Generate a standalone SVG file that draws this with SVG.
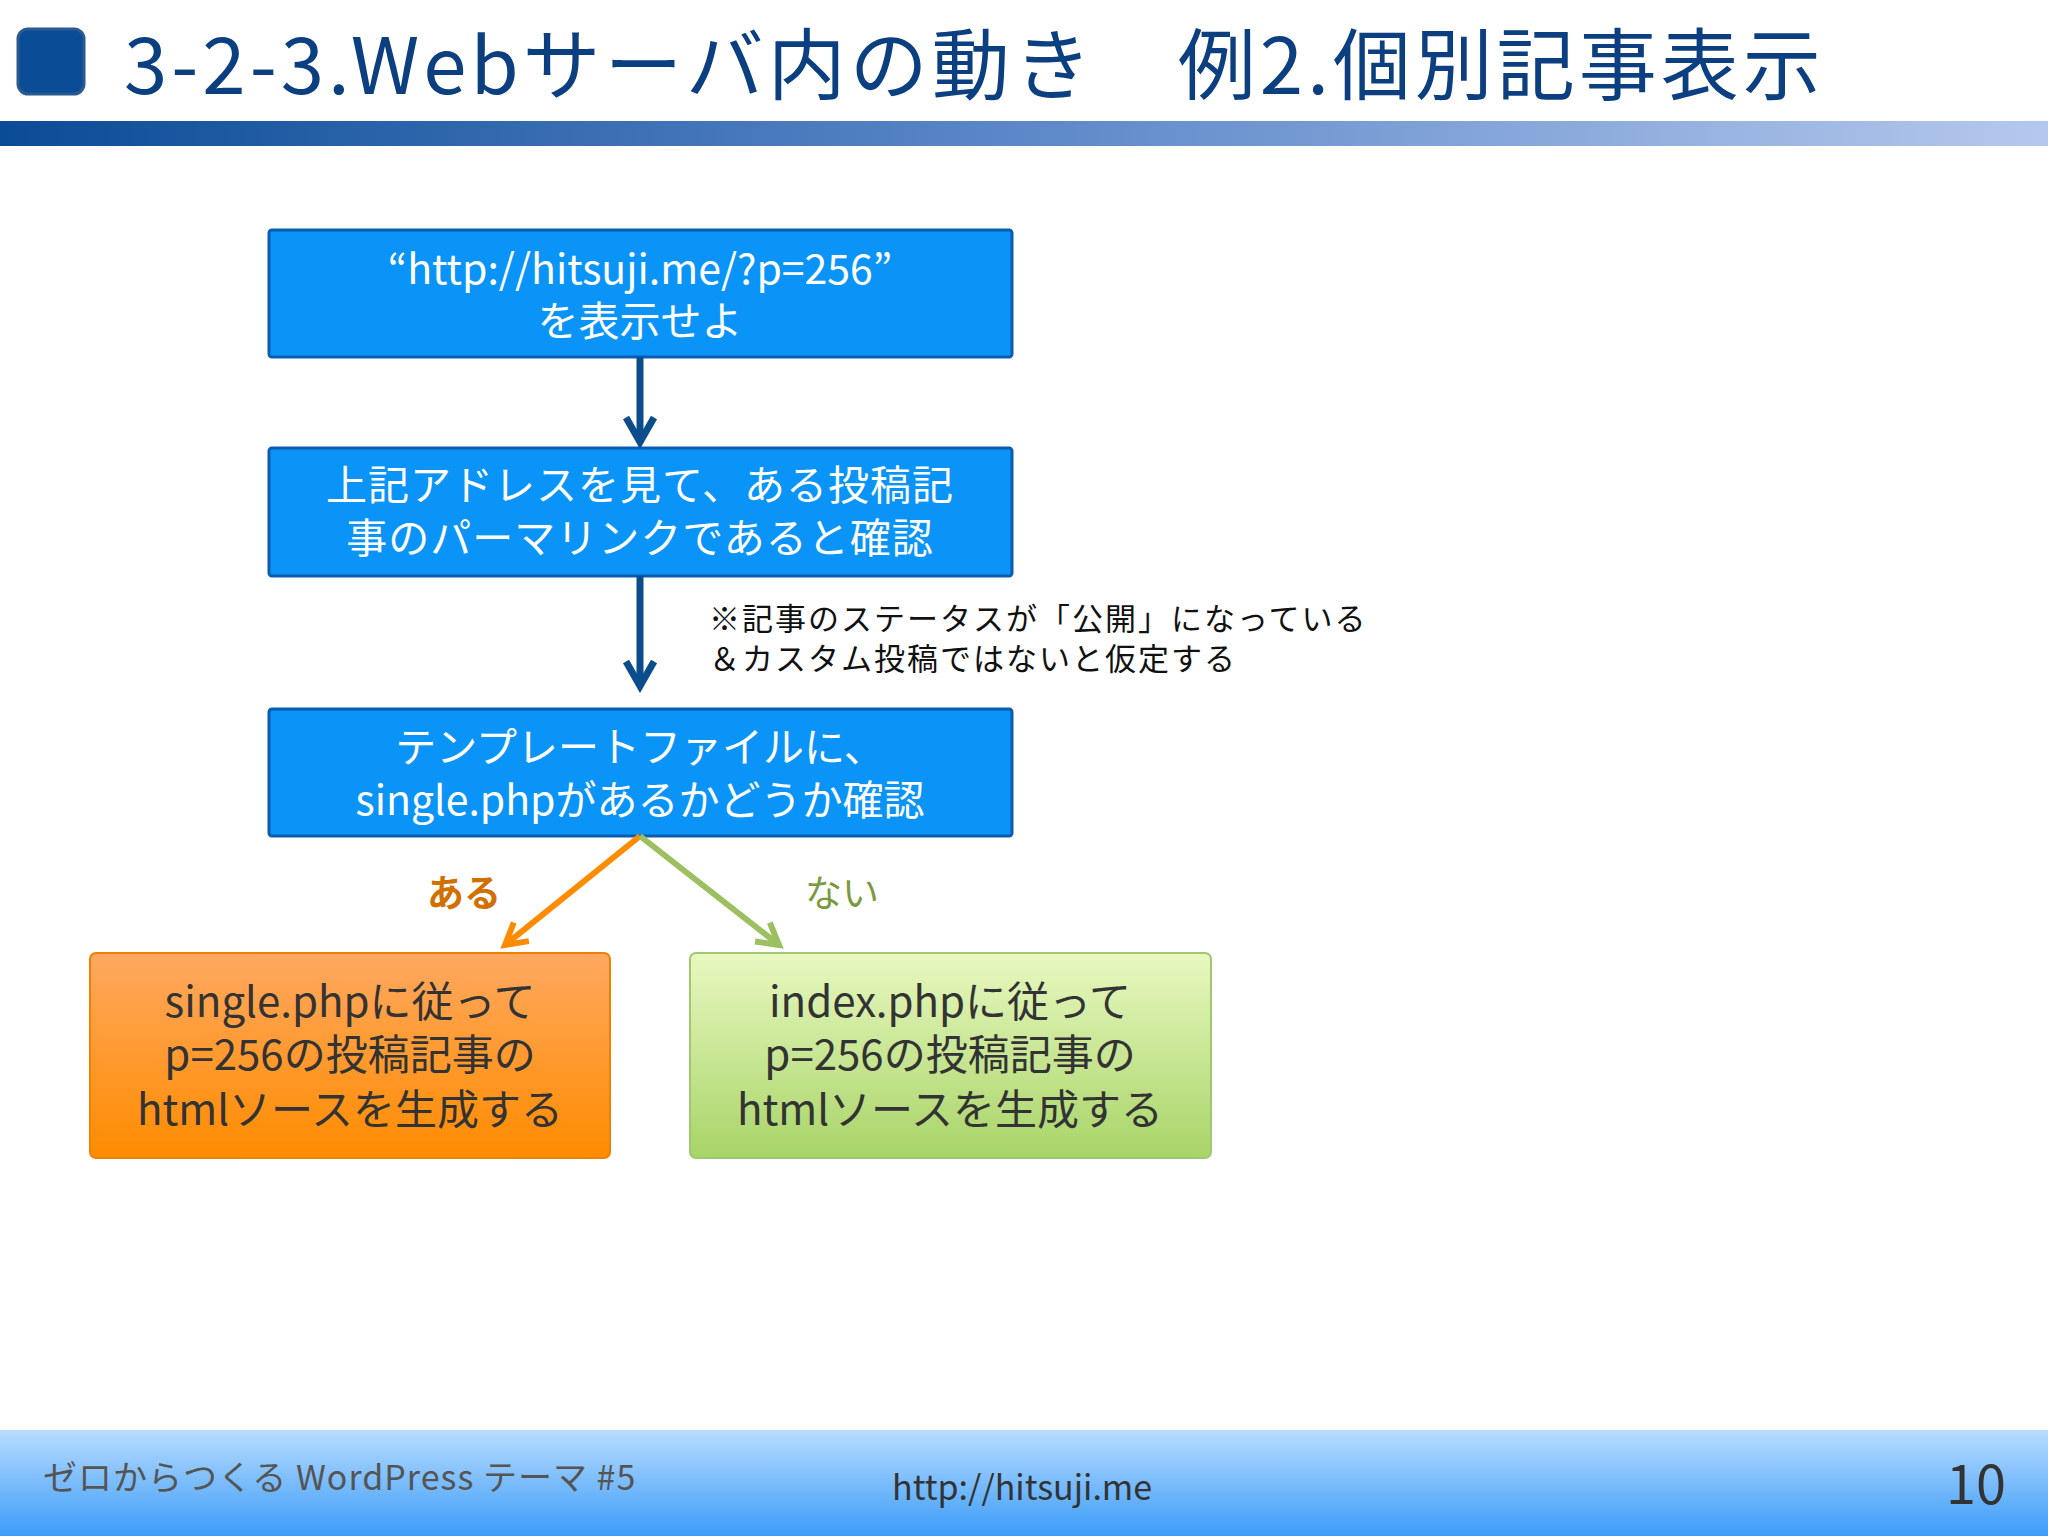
<svg xmlns="http://www.w3.org/2000/svg" width="2048" height="1536" viewBox="0 0 2048 1536">
<defs>
<linearGradient id="hb" x1="0" x2="1" y1="0" y2="0"><stop offset="0" stop-color="#0B4C96"/><stop offset="0.5" stop-color="#5C88C8"/><stop offset="1" stop-color="#B4C8EC"/></linearGradient>
<linearGradient id="fb" x1="0" x2="0" y1="0" y2="1"><stop offset="0" stop-color="#B8DCFF"/><stop offset="1" stop-color="#3C9CF8"/></linearGradient>
<linearGradient id="og" x1="0" x2="0" y1="0" y2="1"><stop offset="0" stop-color="#FFA860"/><stop offset="1" stop-color="#FF8C00"/></linearGradient>
<linearGradient id="gg" x1="0" x2="0" y1="0" y2="1"><stop offset="0" stop-color="#E8F8C0"/><stop offset="1" stop-color="#A8D468"/></linearGradient>
<marker id="ab" viewBox="0 0 10 10" refX="8" refY="5" markerWidth="5" markerHeight="5" orient="auto"><path d="M1,1 L8,5 L1,9" fill="none" stroke="#0B4C8C" stroke-width="2"/></marker>
<marker id="ao" viewBox="0 0 10 10" refX="8" refY="5" markerWidth="5" markerHeight="5" orient="auto"><path d="M1,1 L8,5 L1,9" fill="none" stroke="#FF8C00" stroke-width="2"/></marker>
<marker id="ag" viewBox="0 0 10 10" refX="8" refY="5" markerWidth="5" markerHeight="5" orient="auto"><path d="M1,1 L8,5 L1,9" fill="none" stroke="#9CC060" stroke-width="2"/></marker>
</defs>
<style>
text{font-family:"Noto Sans CJK JP","Noto Sans",sans-serif}
.b{fill:#0A94F8;stroke:#0B5CB0;stroke-width:3}
.bt{fill:#fff;font-size:41px;text-anchor:middle}
.rt{fill:#333;font-size:42px;text-anchor:middle}
</style>
<rect width="2048" height="1536" fill="#fff"/>
<rect x="18" y="29" width="66" height="65" rx="10" fill="#0B4C96" stroke="#2A5A90" stroke-width="3"/>
<text x="124" y="94" font-size="78" fill="#0B3F80" letter-spacing="4">3-2-3.Webサーバ内の動き　例2.個別記事表示</text>
<rect x="0" y="121" width="2048" height="25" fill="url(#hb)"/>
<g id="n1"><rect class="b" x="269" y="230" width="743" height="127" rx="3"/><text class="bt" x="640" y="284">“http://hitsuji.me/?p=256”</text><text class="bt" x="640" y="336">を表示せよ</text></g>
<g id="n2"><rect class="b" x="269" y="448" width="743" height="128" rx="3"/><text class="bt" x="640" y="500" letter-spacing="1">上記アドレスを見て、ある投稿記</text><text class="bt" x="640" y="553" letter-spacing="1">事のパーマリンクであると確認</text></g>
<g id="n3"><rect class="b" x="269" y="709" width="743" height="127" rx="3"/><text class="bt" x="640" y="762">テンプレートファイルに、</text><text class="bt" x="640" y="815">single.phpがあるかどうか確認</text></g>
<g id="n4"><rect x="90" y="953" width="520" height="205" rx="6" fill="url(#og)" stroke="#F08000" stroke-width="2"/><text class="rt" x="350" y="1017">single.phpに従って</text><text class="rt" x="350" y="1070">p=256の投稿記事の</text><text class="rt" x="350" y="1125">htmlソースを生成する</text></g>
<g id="n5"><rect x="690" y="953" width="521" height="205" rx="6" fill="url(#gg)" stroke="#A0C870" stroke-width="2"/><text class="rt" x="950" y="1017">index.phpに従って</text><text class="rt" x="950" y="1070">p=256の投稿記事の</text><text class="rt" x="950" y="1125">htmlソースを生成する</text></g>
<g id="connectors">
<line x1="640" y1="357" x2="640" y2="442" stroke="#0B4C8C" stroke-width="7" marker-end="url(#ab)"/>
<line x1="640" y1="576" x2="640" y2="686" stroke="#0B4C8C" stroke-width="7" marker-end="url(#ab)"/>
<line x1="640" y1="836" x2="505" y2="945" stroke="#FF8C00" stroke-width="6" marker-end="url(#ao)"/>
<line x1="640" y1="836" x2="779" y2="945" stroke="#9CC060" stroke-width="6" marker-end="url(#ag)"/>
<text x="464" y="907" font-size="37" font-weight="bold" fill="#D07000" text-anchor="middle">ある</text>
<text x="842" y="907" font-size="37" fill="#7A9A40" text-anchor="middle">ない</text>
</g>
<text x="709" y="630" font-size="31" fill="#111" letter-spacing="2">※記事のステータスが「公開」になっている</text>
<text x="709" y="670" font-size="31" fill="#111" letter-spacing="2">＆カスタム投稿ではないと仮定する</text>
<rect x="0" y="1430" width="2048" height="106" fill="url(#fb)"/>
<text x="43" y="1490" font-size="34" fill="#555" letter-spacing="1">ゼロからつくる WordPress テーマ #5</text>
<text x="892" y="1500" font-size="34" fill="#333">http://hitsuji.me</text>
<text x="1976" y="1504" font-size="54" fill="#333" text-anchor="middle">10</text>
</svg>
